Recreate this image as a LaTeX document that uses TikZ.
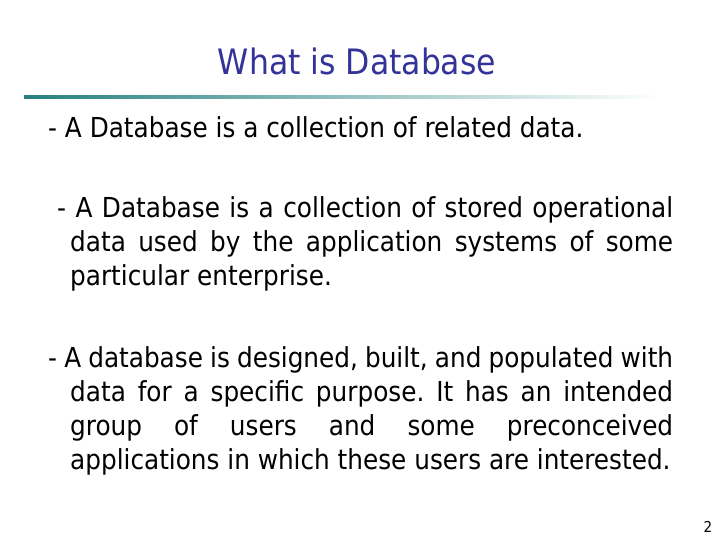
\documentclass[tikz,border=0pt]{standalone}
\usepackage{fontspec}
\setmainfont{DejaVu Sans Condensed}
\usepackage{tikz}
\usetikzlibrary{positioning}
\usepackage{xcolor}
\definecolor{titleblue}{RGB}{51, 51, 153}
\definecolor{rule}{RGB}{38, 128, 128}

\tikzset{
  bodytext/.style={anchor=base west, inner sep=0pt, align=justify,
    font=\fontsize{27.5}{34}\selectfont\frenchspacing},
}
\newcommand{\hangdash}[1]{\hspace*{-#1}}

\begin{document}
\begin{tikzpicture}[x=1pt,y=1pt]
\useasboundingbox[fill=white] (0,0) rectangle (720,540);
\node[anchor=base, inner sep=0pt, text=titleblue, font=\fontsize{35}{40}\selectfont] (title) at (357,465) {What is Database};
\shade[left color=rule, right color=white] (24,441) rectangle (660,444);
\node[bodytext] (p1) at (48,402) {- A Database is a collection of related data.};
% continuation lines start at x=70, the dash hangs out to the left
\node[bodytext, text width=603pt] (p2) at (70,322) {\hangdash{13pt}- A Database is a collection of stored operational\linebreak data used by the application systems of some\linebreak particular enterprise.};
\node[bodytext, text width=603pt] (p3) at (70,172) {\hangdash{22pt}- A database is designed, built, and populated with\linebreak data for a specific purpose. It has an intended\linebreak group of users and some preconceived\linebreak applications in which these users are interested.};
\node[anchor=base, inner sep=0pt, font=\fontsize{15}{18}\selectfont] (page) at (708,7) {2};
\end{tikzpicture}
\end{document}
